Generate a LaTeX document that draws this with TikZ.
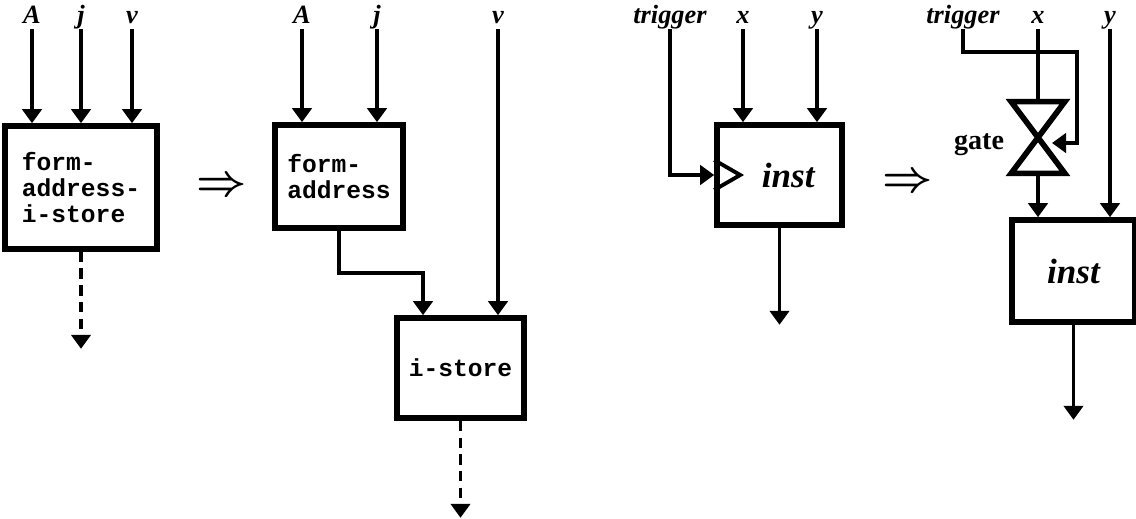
\documentclass[tikz,border=0pt]{standalone}
\usepackage{amsmath, amssymb}
\usepackage{fontspec}
\setmonofont{Liberation Mono}
\newfontfamily\lblfont{Liberation Serif}
\usetikzlibrary{arrows.meta, calc}

\begin{document}
\begin{tikzpicture}[x=0.02cm, y=-0.02cm,
    blk/.style={draw, line width=3.2pt, inner sep=0pt, align=left,
      font=\fontsize{14}{15}\selectfont\ttfamily\bfseries},
    lbl/.style={font=\fontsize{15}{15}\selectfont\lblfont\bfseries\itshape,
      text height=1.7ex, text depth=0.5ex, inner sep=1pt},
    arr/.style={line width=2.2pt, -{Triangle[width=11pt, length=8pt]}},
    darr/.style={arr, dash pattern=on 6pt off 3.5pt},
    imp/.style={font=\fontsize{26}{26}\selectfont\boldmath}]
  \useasboundingbox (0,0) rectangle (1136,518);

  % First rewrite: form-address-i-store
  \node[blk, minimum width=3.04cm, minimum height=2.46cm] (fai) at (81,187.5) {form-\\address-\\i-store};
  \node[lbl] (A1) at (32,19) {A};
  \node[lbl] (j1) at (81,19) {j};
  \node[lbl] (v1) at (132,19) {v};
  \foreach \n in {A1, j1, v1}
    \draw[arr] (\n.south) -- (\n.south |- fai.north);
  \draw[darr] (fai.south) -- ++(0,97);
  \node[imp] (imp1) at (222,187) {$\Rightarrow$};

  % form-address then i-store
  \node[blk, minimum width=2.56cm, minimum height=2.06cm] (fa) at (339,176.5) {form-\\address};
  \node[blk, minimum width=2.54cm, minimum height=2.0cm] (is) at (460.5,368) {i-store};
  \node[lbl] (A2) at (302,19) {A};
  \node[lbl] (j2) at (377,19) {j};
  \node[lbl] (v2) at (498,19) {v};
  \draw[arr] (A2.south) -- (A2.south |- fa.north);
  \draw[arr] (j2.south) -- (j2.south |- fa.north);
  \draw[arr] (v2.south) -- (v2.south |- is.north);
  \coordinate (fa2is) at (423,273);
  \draw[arr] (fa.south) |- (fa2is) -- (fa2is |- is.north);
  \draw[darr] (is.south) -- ++(0,97);

  % Second rewrite: triggered inst
  \node[blk, minimum width=2.5cm, minimum height=2.0cm,
    font=\fontsize{20}{20}\selectfont\lblfont\bfseries\itshape] (inst1) at (779.5,175) {\hspace{10pt}inst};
  \node[lbl] (trig1) at (670,19) {trigger};
  \node[lbl] (x1) at (743,19) {x};
  \node[lbl] (y1) at (817,19) {y};
  \draw[line width=2.2pt] ($(inst1.west)+(0,-15)$) -- ($(inst1.west)+(26,0)$) -- ($(inst1.west)+(0,15)$);
  \draw[arr] (trig1.south) |- (inst1.west);
  \draw[arr] (x1.south) -- (x1.south |- inst1.north);
  \draw[arr] (y1.south) -- (y1.south |- inst1.north);
  \draw[arr] (inst1.south) -- ++(0,97);
  \node[imp] (imp2) at (908,183) {$\Rightarrow$};

  % gate in front of inst
  \node[minimum width=1.06cm, minimum height=1.42cm, inner sep=0pt] (gate) at (1038,137.5) {};
  \draw[line width=3.2pt, line join=miter] (gate.north west) -- (gate.north east)
    -- (gate.south west) -- (gate.south east) -- cycle;
  \node[font=\fontsize{16}{16}\selectfont\lblfont\bfseries] (gatelbl) at (979,145) {gate};
  \node[blk, minimum width=2.46cm, minimum height=2.04cm,
    font=\fontsize{20}{20}\selectfont\lblfont\bfseries\itshape] (inst2) at (1073.5,271) {inst};
  \node[lbl] (trig2) at (963,19) {trigger};
  \node[lbl] (x2) at (1038,19) {x};
  \node[lbl] (y2) at (1110,19) {y};
  \coordinate (tr2) at (1077,52);
  \coordinate (gin) at (1052,143);
  \draw[arr] (trig2.south) |- (tr2) |- (gin);
  \draw[line width=2.2pt] (x2.south) -- (gate.north);
  \draw[arr] (gate.south) -- (gate.south |- inst2.north);
  \draw[arr] (y2.south) -- (y2.south |- inst2.north);
  \draw[arr] (inst2.south) -- ++(0,95);
\end{tikzpicture}
\end{document}
